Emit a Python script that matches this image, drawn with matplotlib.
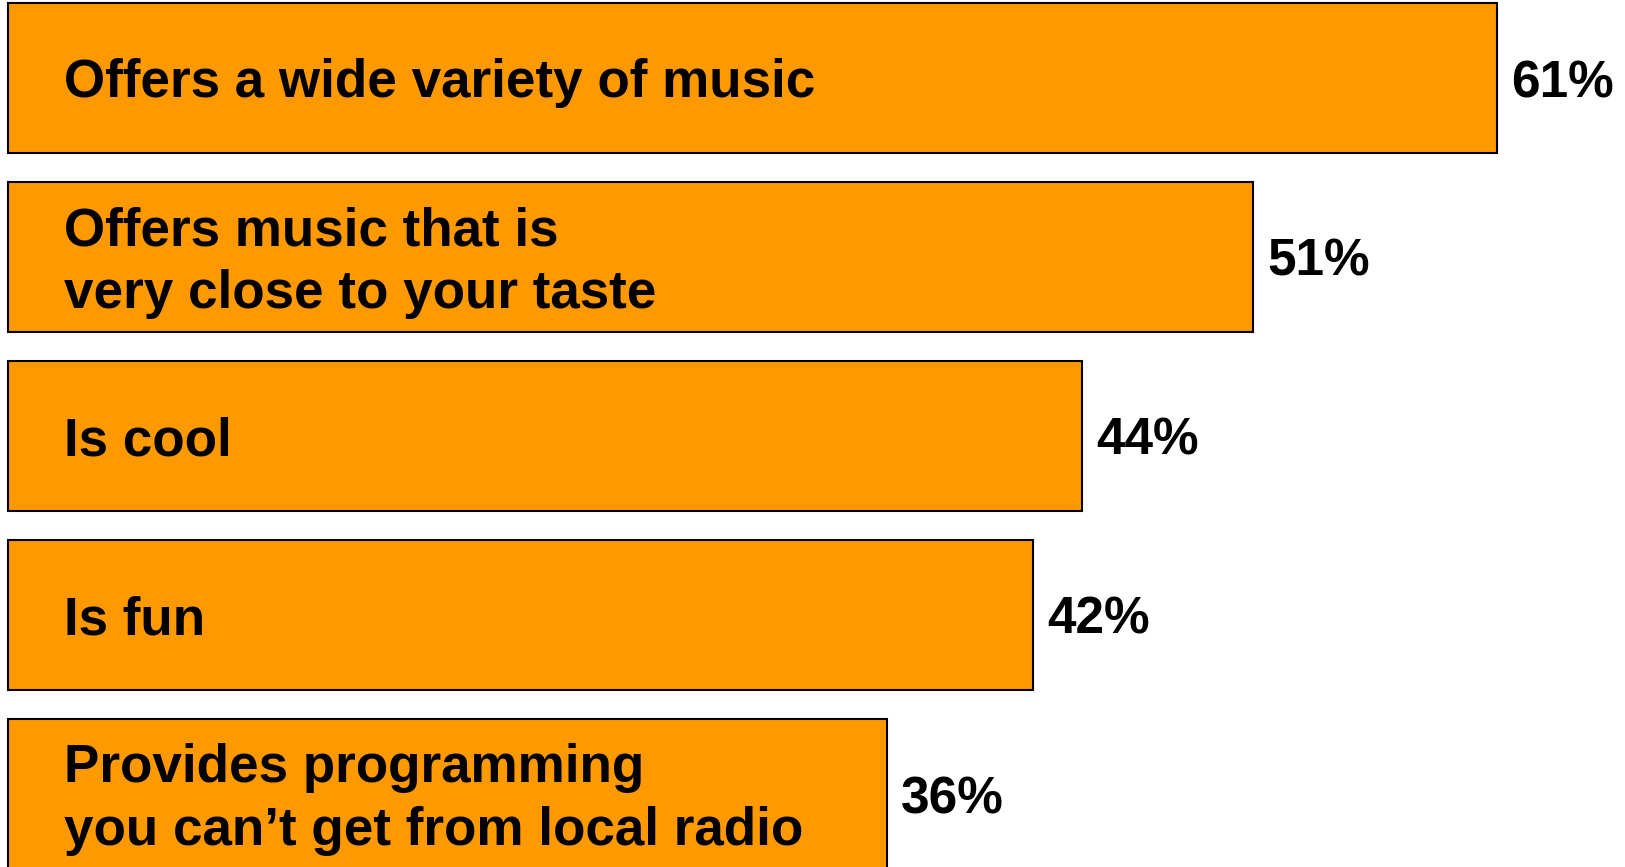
import matplotlib.pyplot as plt

# Chart data
labels = [
    "Offers a wide variety of music",
    "Offers music that is\nvery close to your taste",
    "Is cool",
    "Is fun",
    "Provides programming\nyou can\u2019t get from local radio",
]
values = [61, 51, 44, 42, 36]

plt.rcParams['font.family'] = ['Liberation Sans', 'DejaVu Sans']

fig = plt.figure(figsize=(16.25, 8.67), dpi=100)
ax = fig.add_axes([0, 0, 1, 1])

px_per_pct = 24.41
pitch = 179.0
y = list(range(len(values)))

ax.barh(y, values, height=150 / pitch, color='#FF9900', edgecolor='black',
        linewidth=1.5)

dy = 5.5 / pitch  # text sits slightly below bar centre
for i, (lab, v) in enumerate(zip(labels, values)):
    ax.text(56 / px_per_pct, i + dy, lab, ha='left', va='center', fontsize=38.2,
            fontweight='bold', linespacing=1.32)
    ax.text(v + 14 / px_per_pct, i + dy, f"{v}%", ha='left', va='center',
            fontsize=37, fontweight='bold')

ax.set_xlim(-8 / px_per_pct, (1625 - 8) / px_per_pct)
ax.set_ylim((867 - 78) / pitch, -78 / pitch)
ax.axis('off')

fig.savefig('out.png', dpi=100)
